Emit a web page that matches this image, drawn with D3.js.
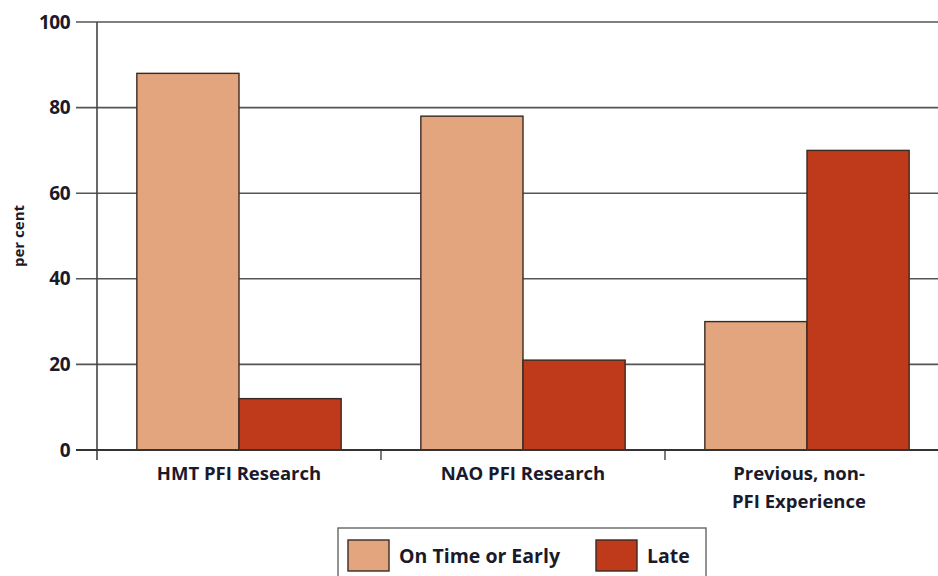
<!DOCTYPE html>
<html><head><meta charset="utf-8">
<script src="https://cdn.jsdelivr.net/npm/d3@7"></script>
<style>body{margin:0;background:#fff}svg{display:block}text{font-family:"Open Sans","DejaVu Sans",sans-serif;font-weight:700;fill:#1a1a2a}</style>
</head><body><svg id="c" width="938" height="576"></svg>
<script>
const categories = ["HMT PFI Research", "NAO PFI Research", "Previous, non-PFI Experience"];
const categoryLines = [["HMT PFI Research"], ["NAO PFI Research"], ["Previous, non-", "PFI Experience"]];
const seriesNames = ["On Time or Early", "Late"];
const onTime = [88, 78, 30];
const late = [12, 21, 70];
const yTicks = [0, 20, 40, 60, 80, 100];
const colors = ["#e3a57e", "#bf3a1a"];

(function () {
const svg = d3.select("#c");
const mLeft = 97, mTop = 22, mBottom = 450, bandW = 284;
const x = d3.scaleBand().domain(categories).range([mLeft, mLeft + bandW * 3]).paddingInner(0).paddingOuter(0);
const xs = d3.scaleBand().domain(seriesNames).range([0, bandW]).paddingInner(0).paddingOuter(0.39);
const y = d3.scaleLinear().domain([0, 100]).range([mBottom, mTop]);

svg.append("g").selectAll("line").data(yTicks).join("line")
  .attr("x1", 76).attr("x2", 938).attr("y1", d => y(d)).attr("y2", d => y(d))
  .attr("stroke", "#555").attr("stroke-width", 1.6);
svg.append("line").attr("x1", mLeft).attr("x2", mLeft).attr("y1", mTop).attr("y2", 460)
  .attr("stroke", "#444").attr("stroke-width", 1.6);
svg.append("g").selectAll("line").data(categories.slice(1)).join("line")
  .attr("x1", d => x(d)).attr("x2", d => x(d)).attr("y1", mBottom).attr("y2", 460)
  .attr("stroke", "#444").attr("stroke-width", 1.4);

const data = categories.map((c, i) => [onTime[i], late[i]]);
const g = svg.append("g");
categories.forEach((c, i) => {
  seriesNames.forEach((s, j) => {
    g.append("rect")
      .attr("x", x(c) + xs(s)).attr("width", xs.bandwidth())
      .attr("y", y(data[i][j])).attr("height", y(0) - y(data[i][j]))
      .attr("fill", colors[j]).attr("stroke", "#3a2a22").attr("stroke-width", 1.4);
  });
});
svg.append("line").attr("x1", 76).attr("x2", 938).attr("y1", mBottom).attr("y2", mBottom)
  .attr("stroke", "#333").attr("stroke-width", 2);

svg.append("g").selectAll("text").data(yTicks).join("text")
  .attr("x", 70).attr("y", d => y(d)).attr("dy", "0.35em").attr("text-anchor", "end")
  .attr("font-size", 19).attr("letter-spacing", -0.5).text(d => d);

svg.append("text").attr("transform", "translate(24,236) rotate(-90)")
  .attr("text-anchor", "middle").attr("font-size", 15).text("per cent");

categories.forEach((c, i) => {
  const cx = x(c) + bandW / 2 - (i === 2 ? 8 : 0);
  const t = svg.append("text").attr("text-anchor", "middle").attr("font-size", 18.5).attr("x", cx);
  categoryLines[i].forEach((ln, k) => {
    t.append("tspan").attr("x", cx).attr("y", 480 + k * 28).text(ln);
  });
});

const lg = svg.append("g");
lg.append("rect").attr("x", 338).attr("y", 528).attr("width", 368).attr("height", 60)
  .attr("fill", "#fff").attr("stroke", "#666").attr("stroke-width", 1.4);
const legX = [348, 596];
seriesNames.forEach((s, j) => {
  lg.append("rect").attr("x", legX[j]).attr("y", 540).attr("width", 41).attr("height", 31)
    .attr("fill", colors[j]).attr("stroke", "#3a2a22").attr("stroke-width", 1.4);
  lg.append("text").attr("x", legX[j] + 51).attr("y", 563)
    .attr("font-size", 19.5).text(s);
});
})();
</script></body></html>
